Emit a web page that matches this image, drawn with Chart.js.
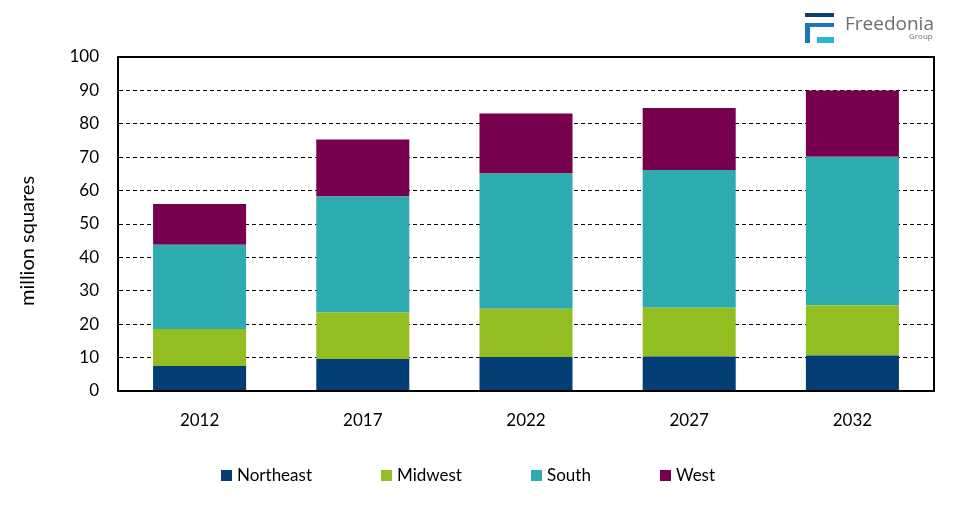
<!DOCTYPE html>
<html>
<head>
<meta charset="utf-8">
<script src="https://cdn.jsdelivr.net/npm/chart.js@4"></script>
<style>
  html, body { margin: 0; padding: 0; background: #fff; }
  #wrap { width: 975px; height: 523px; }
</style>
</head>
<body>
<div id="wrap"><canvas id="chart"></canvas></div>
<script>
var years = ['2012', '2017', '2022', '2027', '2032'];
var northeast = [7.5, 9.6, 10.2, 10.3, 10.6];
var midwest = [11.1, 13.9, 14.4, 14.6, 15.1];
var south = [25.2, 34.7, 40.5, 41.3, 44.4];
var west = [12.2, 17.1, 18.0, 18.5, 19.9];

var font = 'Lato, "Liberation Sans", sans-serif';
var yTitle = 'million squares';
var legendX = [221, 381, 531, 660];

// box round the plot area, axis title, legend row and logo
var extras = {
  id: 'extras',
  afterDatasetsDraw: function (chart) {
    var c = chart.ctx, a = chart.chartArea;
    c.save();
    c.strokeStyle = '#000';
    c.lineWidth = 2;
    c.strokeRect(a.left, a.top, a.right - a.left, a.bottom - a.top);
    c.restore();
  },
  afterDraw: function (chart) {
    var c = chart.ctx;
    c.save();
    // y axis title (sits a bit below the plot centre in the original)
    c.save();
    c.translate(28, 241);
    c.rotate(-Math.PI / 2);
    c.font = '20px ' + font;
    c.fillStyle = '#000';
    c.textAlign = 'center';
    c.textBaseline = 'middle';
    c.fillText(yTitle, 0, 0);
    c.restore();
    // legend
    c.font = '17px ' + font;
    c.textBaseline = 'middle';
    chart.data.datasets.forEach(function (ds, i) {
      c.fillStyle = ds.backgroundColor;
      c.fillRect(legendX[i], 470, 11, 11);
      c.fillStyle = '#000';
      c.fillText(ds.label, legendX[i] + 16, 476);
    });
    // logo
    c.fillStyle = '#0b3f6e';
    c.fillRect(805, 13, 29, 4);
    c.fillStyle = '#1f76b8';
    c.fillRect(805, 23, 29, 4);
    c.fillRect(805, 23, 5, 20);
    c.fillStyle = '#29b6d6';
    c.fillRect(817, 37, 17, 6);
    c.fillStyle = '#6d6e71';
    c.textBaseline = 'alphabetic';
    c.font = '19px "Open Sans", sans-serif';
    c.fillText('Freedonia', 845, 30);
    c.font = '8px "Open Sans", sans-serif';
    c.fillText('Group', 909, 39);
    c.restore();
  }
};

new Chart(document.getElementById('chart'), {
  type: 'bar',
  data: {
    labels: years,
    datasets: [
      { label: 'Northeast', data: northeast, backgroundColor: '#023e73' },
      { label: 'Midwest', data: midwest, backgroundColor: '#93be22' },
      { label: 'South', data: south, backgroundColor: '#2eabb1' },
      { label: 'West', data: west, backgroundColor: '#76004d' }
    ]
  },
  options: {
    responsive: true,
    maintainAspectRatio: false,
    animation: false,
    datasets: { bar: { categoryPercentage: 0.57, barPercentage: 1 } },
    layout: { padding: { top: 57, right: 41, bottom: 65, left: 0 } },
    plugins: {
      tooltip: { enabled: false },
      legend: { display: false }
    },
    scales: {
      x: {
        stacked: true,
        grid: { display: false },
        border: { color: '#000', width: 2 },
        ticks: { color: '#000', padding: 11, font: { family: font, size: 17 } },
        afterFit: function (s) { s.height = 67; }
      },
      y: {
        stacked: true,
        min: 0, max: 100,
        ticks: { stepSize: 10, color: '#000', padding: 19, font: { family: font, size: 17 } },
        grid: {
          drawTicks: false,
          color: function (ctx) { return (ctx.tick.value === 0 || ctx.tick.value === 100) ? 'rgba(0,0,0,0)' : '#000'; },
          lineWidth: 1
        },
        border: { color: '#000', width: 2, dash: [4, 3] },
        afterFit: function (s) { s.width = 118; }
      }
    }
  },
  plugins: [extras]
});
</script>
</body>
</html>
